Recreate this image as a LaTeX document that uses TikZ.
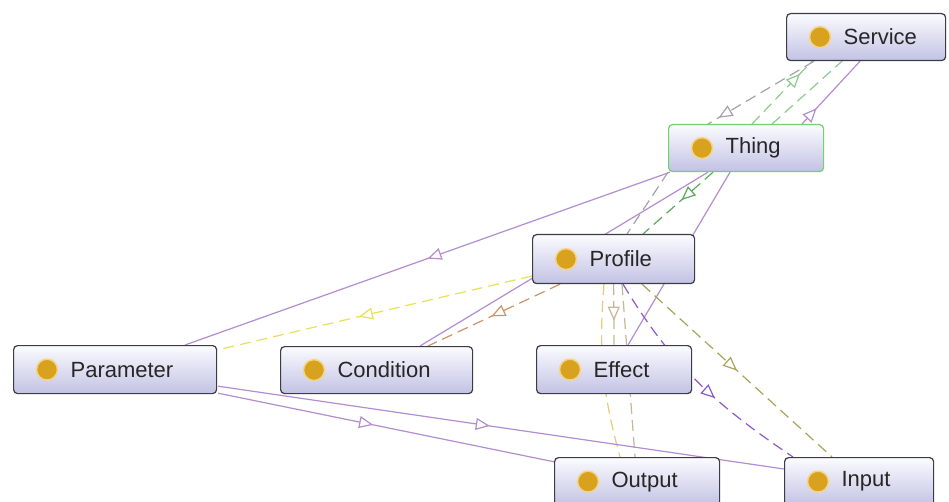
\documentclass[tikz,border=0pt]{standalone}
\usepackage{fontspec}
\setmainfont{Liberation Sans}
\usetikzlibrary{arrows.meta, calc, backgrounds, decorations.markings}

\definecolor{boxedge}{HTML}{3C3C46}
\definecolor{boxtop}{HTML}{FBFBFF}
\definecolor{boxbot}{HTML}{C2C2E4}
\definecolor{thingedge}{HTML}{6ED26E}
\definecolor{dotcol}{HTML}{D9A21E}
\definecolor{dothalo}{HTML}{F3D58A}
\definecolor{isacol}{HTML}{B48CD2}
\definecolor{objcol}{HTML}{8C5AC8}
\definecolor{greycol}{HTML}{A8A0A8}
\definecolor{greencol}{HTML}{8CCB8C}
\definecolor{darkgreencol}{HTML}{5AAA5A}
\definecolor{yellowcol}{HTML}{E6E05A}
\definecolor{orangecol}{HTML}{CC9466}
\definecolor{curvecol}{HTML}{F0C678}
\definecolor{tancol}{HTML}{C8B496}
\definecolor{olivecol}{HTML}{A6A65A}

\newcommand{\conceptfont}{\fontsize{22}{26}\selectfont}
\def \dotrad {10.5pt}
\def \dotgap {34}

\tikzset{
  concept/.style = {draw = boxedge, line width = 1.2pt, rounded corners = 4pt,
    top color = boxtop, bottom color = boxbot, anchor = north west,
    minimum height = 47pt, inner xsep = 0pt, inner ysep = 0pt,
    text width = #1, align = left, font = \conceptfont, text = black!85,
    execute at begin node = \noindent\hspace*{57pt}},
  conceptdot/.style = {fill = dotcol, draw = dothalo, line width = 1.5pt},
  isa/.style = {draw = isacol, line width = 1.2pt},
  rel/.style = {draw = #1, line width = 1.2pt, dash pattern = on 11pt off 6pt},
  mid arrow/.style = {postaction = {decorate, decoration = {markings,
    mark = at position #1 with {\arrow{Triangle[length = 14pt, width = 12pt, fill = white]}}}}}
}

\begin{document}
\begin{tikzpicture}[x = 1pt, y = -1pt]
\useasboundingbox (0, 0) rectangle (949, 502);

% concepts
\node (service) [concept = 159pt] at (786, 13) {Service};
\node (thing) [concept = 155pt, draw = thingedge] at (668, 124) {Thing};
\node (profile) [concept = 162pt, minimum height = 49pt] at (532, 234) {Profile};
\node (parameter) [concept = 203pt, minimum height = 48pt] at (13, 345) {Parameter};
\node (condition) [concept = 192pt] at (280, 346) {Condition};
\node (effect) [concept = 155pt, minimum height = 48pt] at (536, 345) {Effect};
\node (output) [concept = 165pt, minimum height = 48pt] at (554, 457) {Output};
\node (input) [concept = 149pt, minimum height = 48pt] at (784, 457) {Input};

\foreach \c in {service, thing, profile, parameter, condition, effect, output, input}
  \path [conceptdot] ($(\c.west) + (\dotgap, 0)$) circle (\dotrad);

\begin{scope}[on background layer]
% Service <-> Thing
\draw [rel = greycol, mid arrow = 0.9] ($(service.south west) + (28, 0)$) to ($(thing.north west) + (40, 0)$);
\draw [rel = greencol, mid arrow = 0.8] ($(thing.north west) + (84, 0)$) to ($(service.south west) + (26, 0)$);
\draw [rel = greencol] ($(thing.north west) + (104, 0)$) to ($(service.south west) + (56, 0)$);
\draw [isa, mid arrow = 0.25] ($(thing.north west) + (134, 0)$) to ($(service.south west) + (74, 0)$);

% from Thing
\draw [isa, mid arrow = 0.5] ($(thing.south west) + (2, 0)$) to ($(parameter.north west) + (172, 0)$);
\draw [rel = greycol] (thing.south west) to ($(profile.north west) + (95, 0)$);
\draw [rel = darkgreencol, mid arrow = 0.45] ($(thing.south west) + (45, 0)$) to ($(profile.north west) + (111, 0)$);
\draw [isa] ($(thing.south west) + (40, 0)$) to ($(condition.north west) + (140, 0)$);
\draw [isa] ($(thing.south west) + (62, 0)$) to ($(effect.north west) + (92, 0)$);

% from Profile
\draw [rel = yellowcol, mid arrow = 0.55] ($(profile.north west) + (0, 42)$) to ($(parameter.north east) + (0, 5)$);
\draw [rel = orangecol, mid arrow = 0.52] ($(profile.south west) + (28, 0)$) to ($(condition.north west) + (148, 0)$);
\draw [rel = tancol, mid arrow = 0.6] (profile.south) to (effect.north);
\draw [rel = curvecol] ($(profile.south west) + (72, 0)$) to [bend right = 10] ($(output.north west) + (66, 0)$);
\draw [rel = tancol] ($(profile.south west) + (90, 0)$) to ($(output.north west) + (81, 0)$);
\draw [rel = objcol, mid arrow = 0.6] ($(profile.south west) + (91, 0)$) to [out = -59, in = 146] ($(input.north west) + (9, 0)$);
\draw [rel = olivecol, mid arrow = 0.5] ($(profile.south west) + (110, 0)$) to ($(input.north west) + (48, 0)$);

% from Parameter
\draw [isa, mid arrow = 0.48] ($(parameter.south east) + (1, -8)$) to ($(input.north west) + (0, 12)$);
\draw [isa, mid arrow = 0.46] ($(parameter.south east) + (1, -1)$) to ($(output.north west) + (1, 5)$);
\end{scope}

\end{tikzpicture}
\end{document}
